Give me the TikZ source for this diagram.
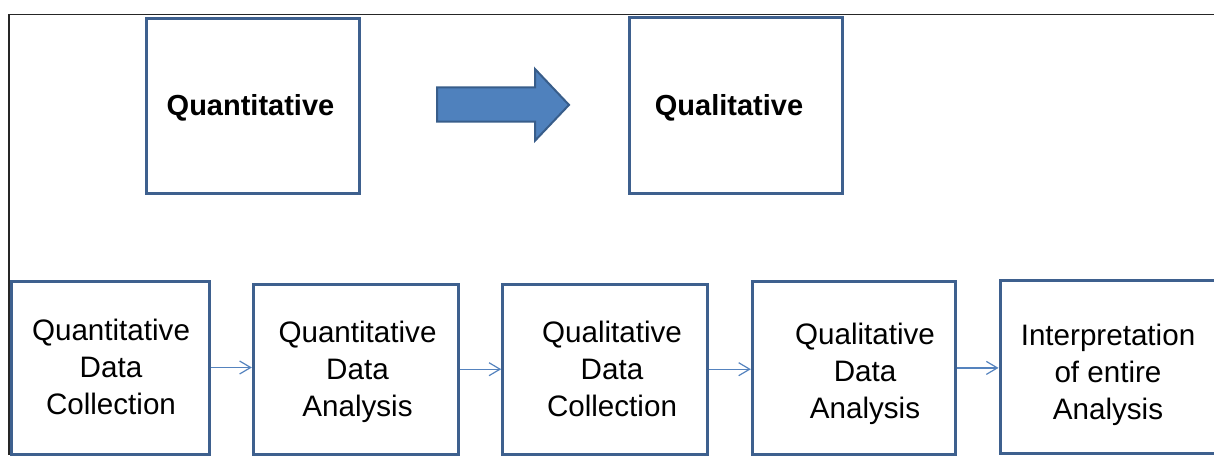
\documentclass[tikz,border=0pt]{standalone}
\usepackage{fontspec}
\setmainfont{Liberation Sans}
\usetikzlibrary{arrows.meta,calc}
\definecolor{boxline}{RGB}{62,96,142}
\definecolor{arrowfill}{RGB}{79,129,189}
\definecolor{arrowline}{RGB}{56,93,138}
\definecolor{linkblue}{RGB}{85,131,190}
\definecolor{frameline}{RGB}{38,38,38}
\begin{document}
\begin{tikzpicture}[x=1pt,y=-1pt,
  stagebox/.style={draw=boxline, line width=3pt, rectangle, inner sep=0pt},
  toplabel/.style={font=\fontsize{29}{35}\selectfont\bfseries, inner sep=0pt},
  steplabel/.style={font=\fontsize{29.6}{37}\selectfont, align=center, inner sep=0pt},
  link/.style={draw=linkblue, line width=1.2pt, -{Straight Barb[length=11pt,width=13pt]}}
]
\useasboundingbox (0,0) rectangle (1214,455);
\clip (0,0) rectangle (1214,455);

% page frame (top and left edges)
\draw[frameline, line width=1.3pt] (9,455) -- (9,14.5) -- (1220,14.5);

% upper row: the two approaches
\node[stagebox, minimum width=213.3pt, minimum height=175pt] (qt) at (253.3,105.8) {};
\node[stagebox, minimum width=213pt, minimum height=175.3pt] (ql) at (735.5,105.4) {};
\node[toplabel] (qtlabel) at (250.5,107.5) {Quantitative};
\node[toplabel] (qllabel) at (729,107.5) {Qualitative};

% block arrow between the approaches
\draw[fill=arrowfill, draw=arrowline, line width=2pt, line join=miter]
  (437,87.3) -- (535,87.3) -- (535,69) -- (569,104.9) -- (535,140.7)
  -- (535,121.7) -- (437,121.7) -- cycle;

% lower row: the sequence of stages
\node[stagebox, minimum width=198pt,   minimum height=173pt]   (b1) at (110,367.5) {};
\node[stagebox, minimum width=205pt,   minimum height=169.7pt] (b2) at (355.8,369.2) {};
\node[stagebox, minimum width=204.6pt, minimum height=169.7pt] (b3) at (605,369.2) {};
\node[stagebox, minimum width=202.7pt, minimum height=172.3pt] (b4) at (853.7,367.9) {};
\node[stagebox, minimum width=218pt,   minimum height=173pt]   (b5) at (1109,366.5) {};

\node[steplabel] (t1) at (111,367.4)  {Quantitative\\Data\\Collection};
\node[steplabel] (t2) at (357.5,372)  {Quantitative\\Data\\Analysis};
\node[steplabel] (t3) at (612,369.1)  {Qualitative\\Data\\Collection};
\node[steplabel] (t4) at (865,373.4)  {Qualitative\\Data\\Analysis};
\node[steplabel] (t5) at (1108,375)   {Interpretation\\of entire\\Analysis};

% connectors between stages
\draw[link] (b1.east) -- (b2.west |- b1.east);
\draw[link] (b2.east) -- (b3.west |- b2.east);
\draw[link] (b3.east) -- (b4.west |- b3.east);
\draw[link] (b4.east) -- (b5.west |- b4.east);
\end{tikzpicture}
\end{document}
